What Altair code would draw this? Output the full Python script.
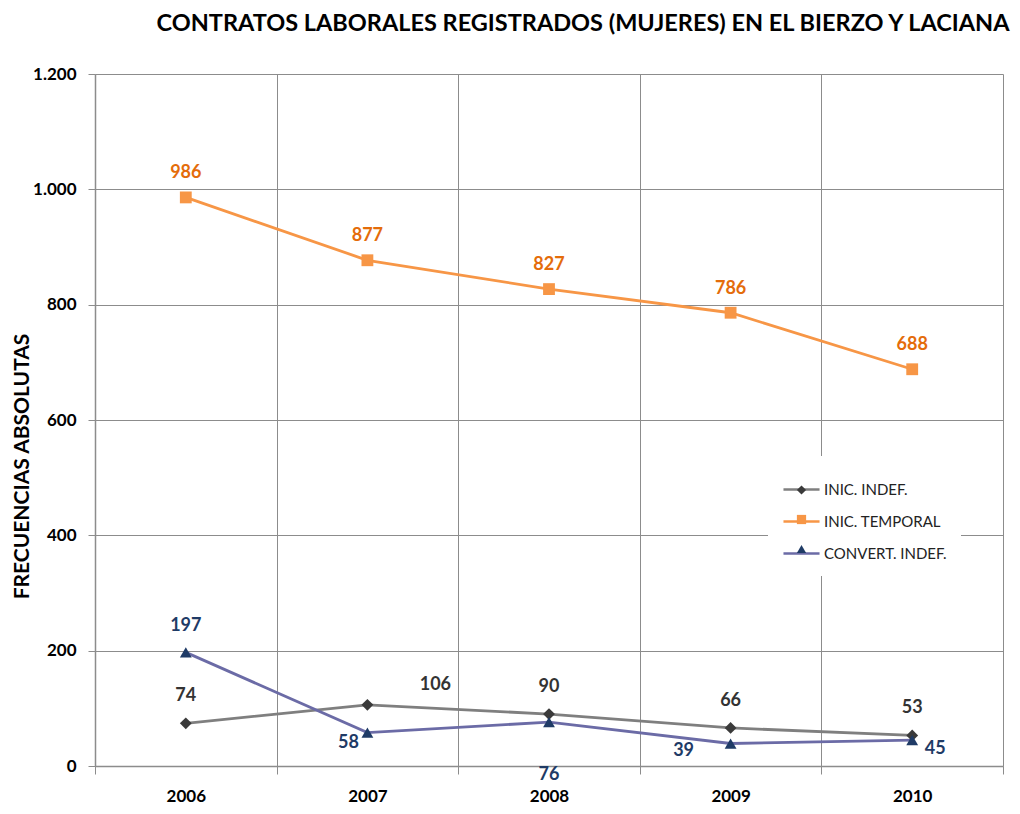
import altair as alt
import pandas as pd

years = [2006, 2007, 2008, 2009, 2010]
series_names = ["INIC. INDEF.", "INIC. TEMPORAL", "CONVERT. INDEF."]
inic_indef = [74, 106, 90, 66, 53]
inic_temporal = [986, 877, 827, 786, 688]
convert_indef = [197, 58, 76, 39, 45]
y_ticks = [0, 200, 400, 600, 800, 1000, 1200]

line_colors = ["#7F7F7F", "#F79646", "#6B6BA6"]
marker_colors = ["#3A3A3A", "#F79646", "#1F3B66"]
label_colors = ["#333333", "#E46C0A", "#1F3B66"]
shapes = ["diamond", "square", "triangle-up"]

rows = []
for name, vals in zip(series_names, [inic_indef, inic_temporal, convert_indef]):
    for yr, v in zip(years, vals):
        rows.append({"year": yr, "serie": name, "valor": v})
df = pd.DataFrame(rows)

FONT = "Lato"
x_vals = [2005.5, 2006, 2006.5, 2007, 2007.5, 2008, 2008.5, 2009, 2009.5, 2010, 2010.5]

x_enc = alt.X(
    "year:Q",
    scale=alt.Scale(domain=[2005.5, 2010.5], nice=False, zero=False),
    axis=alt.Axis(
        values=x_vals,
        labelExpr="datum.value % 1 == 0 ? format(datum.value, 'd') : ''",
        grid=True,
        gridColor="#8C8C8C",
        gridOpacity={"condition": {"test": "datum.value % 1 == 0", "value": 0}, "value": 1},
        tickOpacity={"condition": {"test": "datum.value % 1 == 0", "value": 0}, "value": 1},
        tickColor="#8C8C8C",
        tickSize=8,
        domainColor="#8C8C8C",
        domainWidth=1.5,
        labelFont=FONT,
        labelFontSize=17,
        labelFontWeight="bold",
        labelColor="#000000",
        labelPadding=14,
        title=None,
    ),
)
y_enc = alt.Y(
    "valor:Q",
    scale=alt.Scale(domain=[0, 1200], nice=False),
    axis=alt.Axis(
        values=y_ticks,
        labelExpr="replace(format(datum.value, ','), ',', '.')",
        grid=True,
        gridColor="#8C8C8C",
        tickColor="#8C8C8C",
        tickSize=7,
        domainColor="#8C8C8C",
        domainWidth=1.5,
        labelFont=FONT,
        labelFontSize=17,
        labelFontWeight="bold",
        labelColor="#000000",
        labelPadding=12,
        title="FRECUENCIAS ABSOLUTAS",
        titleFont=FONT,
        titleFontSize=21,
        titleFontWeight="bold",
        titleColor="#000000",
        titleAngle=-90,
        titleX=-73,
        titleY=392,
        titleBaseline="middle",
        titleAlign="center",
    ),
)

base = alt.Chart(df)

LEG_X = 673
LEG_Y = 382
LEG_PAD = 14

lines = base.mark_line(strokeWidth=2.8).encode(
    x=x_enc,
    y=y_enc,
    color=alt.Color(
        "serie:N",
        scale=alt.Scale(domain=series_names, range=line_colors),
        legend=alt.Legend(
            orient="none",
            legendX=LEG_X,
            legendY=LEG_Y,
            title=None,
            symbolType="stroke",
            symbolSize=1300,
            symbolStrokeWidth=2.5,
            labelFont=FONT,
            labelFontSize=15,
            labelColor="#222222",
            rowPadding=4,
            fillColor="white",
            padding=LEG_PAD,
            labelOffset=3,
        ),
    ),
)

marker_domain = ["marcador " + s for s in series_names]

points = base.transform_calculate(marcador="'marcador ' + datum.serie").mark_point(
    filled=True, size=140, opacity=1
).encode(
    x="year:Q",
    y="valor:Q",
    fill=alt.Fill(
        "marcador:N",
        scale=alt.Scale(domain=marker_domain, range=marker_colors),
        legend=alt.Legend(
            orient="none",
            legendX=LEG_X + 13.5,
            legendY=LEG_Y + 14,
            title=None,
            symbolSize=85,
            symbolStrokeWidth=0,
            labelFont=FONT,
            labelFontSize=12,
            labelExpr="''",
            rowPadding=17.5,
            padding=LEG_PAD,
        ),
    ),
    shape=alt.Shape(
        "marcador:N",
        scale=alt.Scale(domain=marker_domain, range=shapes),
    ),
)


def labels(serie, color, dx=0, dy=-22, only=None, exclude=None):
    c = base.transform_filter(alt.datum.serie == serie)
    if only is not None:
        c = c.transform_filter(alt.FieldOneOfPredicate(field="year", oneOf=only))
    if exclude is not None:
        c = c.transform_filter(~alt.FieldOneOfPredicate(field="year", oneOf=exclude))
    return c.mark_text(
        font=FONT, fontSize=18, fontWeight="bold", color=color, dx=dx, dy=dy
    ).encode(x="year:Q", y="valor:Q", text="valor:Q")


text_layers = [
    labels("INIC. TEMPORAL", label_colors[1], dy=-24),
    labels("INIC. INDEF.", label_colors[0], dy=-27, exclude=[2007]),
    labels("INIC. INDEF.", label_colors[0], dx=68, dy=-20, only=[2007]),
    labels("CONVERT. INDEF.", label_colors[2], dy=-26, only=[2006]),
    labels("CONVERT. INDEF.", label_colors[2], dx=-19, dy=10, only=[2007]),
    labels("CONVERT. INDEF.", label_colors[2], dy=53, only=[2008]),
    labels("CONVERT. INDEF.", label_colors[2], dx=-47, dy=7, only=[2009]),
    labels("CONVERT. INDEF.", label_colors[2], dx=23, dy=9, only=[2010]),
]

chart = alt.layer(lines, points, *text_layers).properties(
    width=908,
    height=692,
    autosize=alt.AutoSizeParams(type="none"),
    padding={"left": 87, "top": 66, "right": 9, "bottom": 40},
    title=alt.TitleParams(
        "CONTRATOS LABORALES REGISTRADOS (MUJERES)  EN EL BIERZO Y LACIANA",
        font=FONT,
        fontSize=23.5,
        fontWeight="bold",
        color="#000000",
        anchor="middle",
        dx=34,
        offset=30,
    ),
).configure_view(stroke=None).configure_legend(strokeColor=None)

chart.save("out.html", embed_options={"renderer": "svg", "actions": False})
